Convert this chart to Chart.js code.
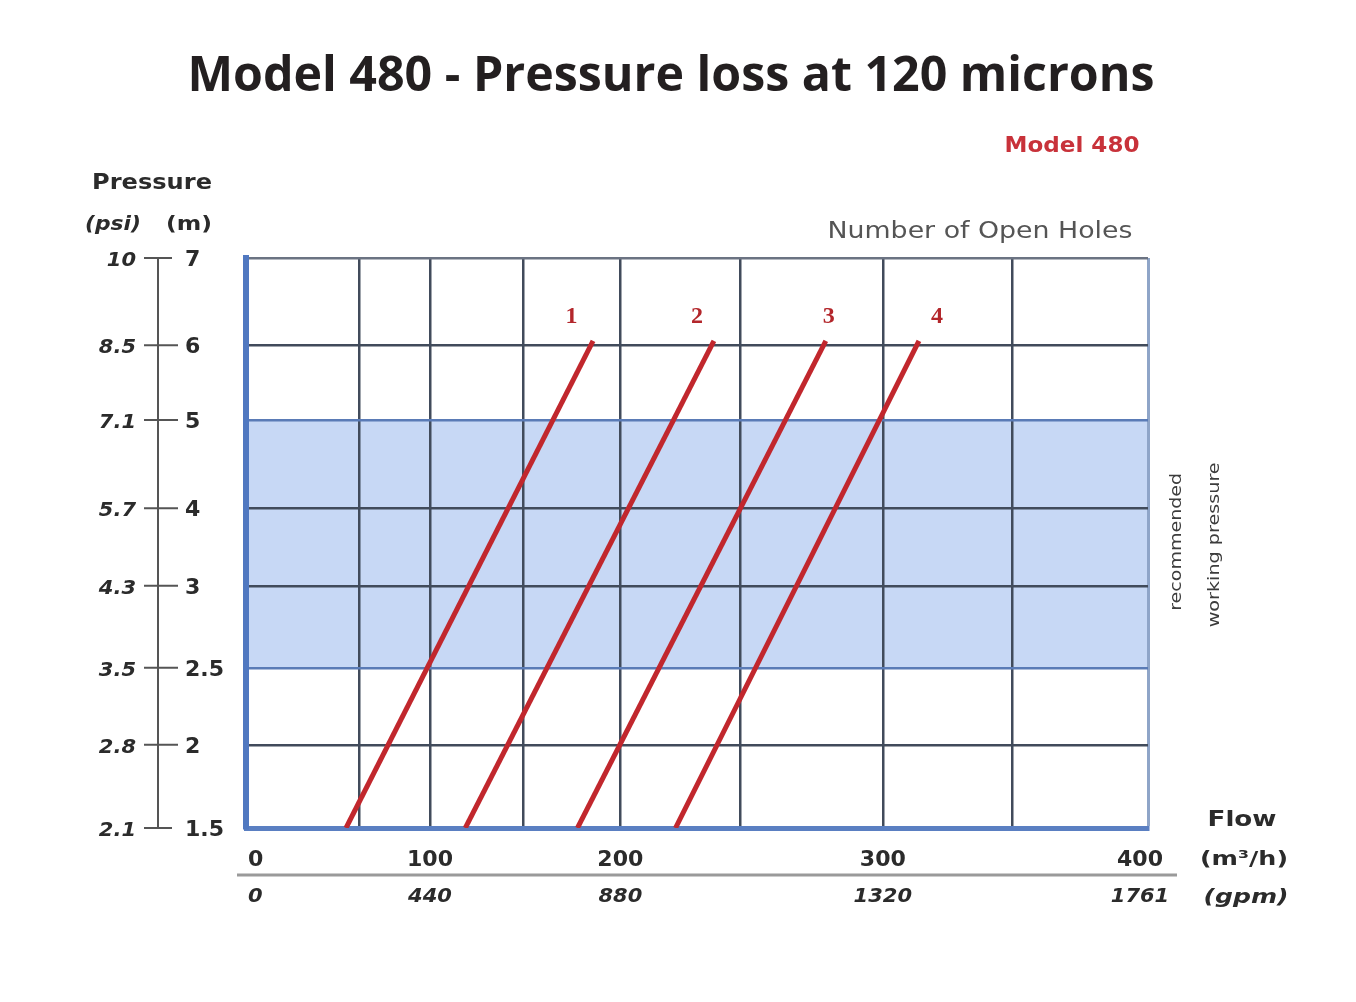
<!DOCTYPE html>
<html>
<head>
<meta charset="utf-8">
<title>Model 480 - Pressure loss at 120 microns</title>
<script src="https://cdn.jsdelivr.net/npm/chart.js@4.4.1/dist/chart.umd.min.js"></script>
<style>
  html, body { margin: 0; padding: 0; background: #fff; }
  #wrap { width: 1356px; height: 1002px; position: relative; }
</style>
</head>
<body>
<div id="wrap"><canvas id="lossChart"></canvas></div>
<script>
// flow axis (m3/h) and its gpm twin
const flowTicks = [0, 100, 200, 300, 400];
const gpmTicks = ["0", "440", "880", "1320", "1761"];
const flowGrid = [0, 50, 100, 150, 200, 250, 300, 350, 400];

// pressure axis, metres and psi
const pressureM = [1.5, 2, 2.5, 3, 4, 5, 6, 7];
const pressurePsi = ["2.1", "2.8", "3.5", "4.3", "5.7", "7.1", "8.5", "10"];

// recommended working pressure band (m)
const bandLow = 2.5;
const bandHigh = 5;

// pressure loss lines per number of open holes: [flow at 1.5 m, flow at top]
const holes = ["1", "2", "3", "4"];
const flowAtLow = [44, 119, 178, 223];
const flowAtHigh = [186, 239, 280, 314];
const lineLow = 1.5;
const lineHigh = 6.05;
const holeLabelFlow = [175, 232, 281, 321];
const holeLabelY = 6.26;

// the printed axes are not evenly spaced, so each scale maps through stops
const scaleStops = {
  x: { values: flowGrid, at: [0, 0.126, 0.204, 0.307, 0.415, 0.548, 0.706, 0.849, 1] },
  y: { values: pressureM, at: [0, 0.146, 0.281, 0.425, 0.561, 0.716, 0.847, 1] }
};

class StopScale extends Chart.LinearScale {
  static id = "stops";
  static defaults = {};
  toDecimal(v) {
    const s = scaleStops[this.id];
    if (v <= s.values[0]) return s.at[0];
    for (let i = 1; i < s.values.length; i++) {
      if (v <= s.values[i]) {
        const t = (v - s.values[i - 1]) / (s.values[i] - s.values[i - 1]);
        return s.at[i - 1] + t * (s.at[i] - s.at[i - 1]);
      }
    }
    return s.at[s.at.length - 1];
  }
  getPixelForValue(value) {
    if (value === null || value === undefined) return NaN;
    return this.getPixelForDecimal(this.toDecimal(value));
  }
  getValueForPixel(pixel) {
    const s = scaleStops[this.id];
    const d = this.getDecimalForPixel(pixel);
    for (let i = 1; i < s.at.length; i++) {
      if (d <= s.at[i]) {
        const t = (d - s.at[i - 1]) / (s.at[i] - s.at[i - 1]);
        return s.values[i - 1] + t * (s.values[i] - s.values[i - 1]);
      }
    }
    return s.values[s.values.length - 1];
  }
}
Chart.register(StopScale);

// draw text, optionally stretched to a given width (the scan is a bit wide)
function label(ctx, str, x, y, o) {
  ctx.save();
  ctx.font = o.font;
  ctx.fillStyle = o.color || "#2b2b2b";
  ctx.textAlign = o.align || "center";
  ctx.textBaseline = o.baseline || "alphabetic";
  let sx = o.sx || 1;
  if (o.width) sx = o.width / ctx.measureText(str).width;
  ctx.translate(x, y);
  if (o.rotate) ctx.rotate(o.rotate);
  ctx.scale(sx, 1);
  ctx.fillText(str, 0, 0);
  ctx.restore();
}

const SANS = "'DejaVu Sans', Verdana, sans-serif";

const decor = {
  id: "decor",
  afterDraw(chart) {
    const ctx = chart.ctx;
    const x = chart.scales.x, y = chart.scales.y;
    const area = chart.chartArea;

    label(ctx, "Model 480 - Pressure loss at 120 microns", 671, 91,
      { font: "bold 48px 'Open Sans', sans-serif", color: "#231f20", width: 967 });
    label(ctx, "Model 480", 1072, 152, { font: "bold 21px " + SANS, color: "#c8323a", width: 135 });
    label(ctx, "Number of Open Holes", 980, 238, { font: "23px " + SANS, color: "#555", width: 305 });

    // pressure axis on the left
    label(ctx, "Pressure", 152, 189, { font: "bold 22px " + SANS, width: 120 });
    label(ctx, "(psi)", 113, 230, { font: "italic bold 19px " + SANS, width: 56 });
    label(ctx, "(m)", 189, 230, { font: "bold 19px " + SANS, width: 46 });

    const axX = 158;
    ctx.save();
    ctx.strokeStyle = "#555";
    ctx.lineWidth = 2;
    ctx.beginPath();
    ctx.moveTo(axX, y.getPixelForValue(pressureM[pressureM.length - 1]));
    ctx.lineTo(axX, y.getPixelForValue(pressureM[0]));
    pressureM.forEach((m, i) => {
      const py = y.getPixelForValue(m);
      const end = i === 0 || i === pressureM.length - 1;
      ctx.moveTo(axX - 14, py);
      ctx.lineTo(end ? axX + 14 : axX + 20, py);
    });
    ctx.stroke();
    ctx.restore();

    pressureM.forEach((m, i) => {
      const py = y.getPixelForValue(m) + 8;
      label(ctx, pressurePsi[i], 136, py, { font: "italic bold 20px " + SANS, align: "right", sx: 1.05 });
      label(ctx, String(m), 185, py, { font: "bold 21px " + SANS, align: "left", sx: 1.05 });
    });

    // flow axis underneath
    flowTicks.forEach((f, i) => {
      const px = x.getPixelForValue(f);
      let cx = px, align = "center";
      if (i === 0) { cx = px + 2; align = "left"; }
      if (i === flowTicks.length - 1) { cx = px - 8; }
      label(ctx, String(f), cx, 866, { font: "bold 21px " + SANS, align: align, sx: 1.05 });
      label(ctx, gpmTicks[i], cx, 902, { font: "italic bold 20px " + SANS, align: align, sx: 1.05 });
    });
    ctx.save();
    ctx.strokeStyle = "#9a9a9a";
    ctx.lineWidth = 3;
    ctx.beginPath();
    ctx.moveTo(area.left - 9, 875);
    ctx.lineTo(1177, 875);
    ctx.stroke();
    ctx.restore();

    label(ctx, "Flow", 1242, 826, { font: "bold 22px " + SANS, width: 69 });
    label(ctx, "(m\u00b3/h)", 1244, 865, { font: "bold 20px " + SANS, width: 88 });
    label(ctx, "(gpm)", 1246, 903, { font: "italic bold 20px " + SANS, width: 85 });

    // band note, rotated
    const bandMid = (y.getPixelForValue(bandLow) + y.getPixelForValue(bandHigh)) / 2;
    label(ctx, "recommended", 1177, bandMid - 2,
      { font: "16px " + SANS, color: "#3c3c3c", baseline: "middle", rotate: -Math.PI / 2, width: 138 });
    label(ctx, "working pressure", 1215, bandMid + 1,
      { font: "16px " + SANS, color: "#3c3c3c", baseline: "middle", rotate: -Math.PI / 2, width: 165 });

    // hole numbers above the lines
    holes.forEach((h, i) => {
      label(ctx, h, x.getPixelForValue(holeLabelFlow[i]), y.getPixelForValue(holeLabelY),
        { font: "bold 24px 'Liberation Serif', serif", color: "#b3262b" });
    });
  }
};

const datasets = [{
  label: "recommended working pressure",
  data: [{ x: 0, y: bandHigh }, { x: 400, y: bandHigh }],
  fill: { value: bandLow },
  backgroundColor: "#c7d8f5",
  borderColor: "rgba(0,0,0,0)",
  borderWidth: 0,
  pointRadius: 0
}];
holes.forEach((h, i) => {
  datasets.push({
    label: h,
    data: [{ x: flowAtLow[i], y: lineLow }, { x: flowAtHigh[i], y: lineHigh }],
    borderColor: "#c1272d",
    borderWidth: 5,
    pointRadius: 0,
    fill: false
  });
});

const ctx = document.getElementById("lossChart").getContext("2d");
const chart = new Chart(ctx, {
  type: "line",
  data: { datasets: datasets },
  options: {
    responsive: true,
    maintainAspectRatio: false,
    animation: false,
    layout: { padding: { left: 246, right: 208, top: 258, bottom: 174 } },
    plugins: {
      legend: { display: false },
      tooltip: { enabled: false },
      filler: { drawTime: "beforeDraw" }
    },
    scales: {
      x: {
        type: "stops",
        min: 0,
        max: 400,
        afterBuildTicks: s => { s.ticks = flowGrid.map(v => ({ value: v })); },
        ticks: { display: false },
        grid: {
          drawTicks: false,
          color: c => (c.tick && c.tick.value === 400 ? "#8fa5c8" : "#414b5b"),
          lineWidth: c => (c.tick && c.tick.value === 400 ? 3 : 2.5)
        },
        border: { color: "#5a7fc2", width: 5 }
      },
      y: {
        type: "stops",
        min: 1.5,
        max: 7,
        afterBuildTicks: s => { s.ticks = pressureM.map(v => ({ value: v })); },
        ticks: { display: false },
        grid: {
          drawTicks: false,
          color: c => {
            const v = c.tick && c.tick.value;
            if (v === bandLow || v === bandHigh) return "#5a7bb6";
            if (v === 7) return "#6b7382";
            return "#414b5b";
          },
          lineWidth: 2.5
        },
        border: { color: "#5078c0", width: 6 }
      }
    }
  },
  plugins: [decor]
});
</script>
</body>
</html>
